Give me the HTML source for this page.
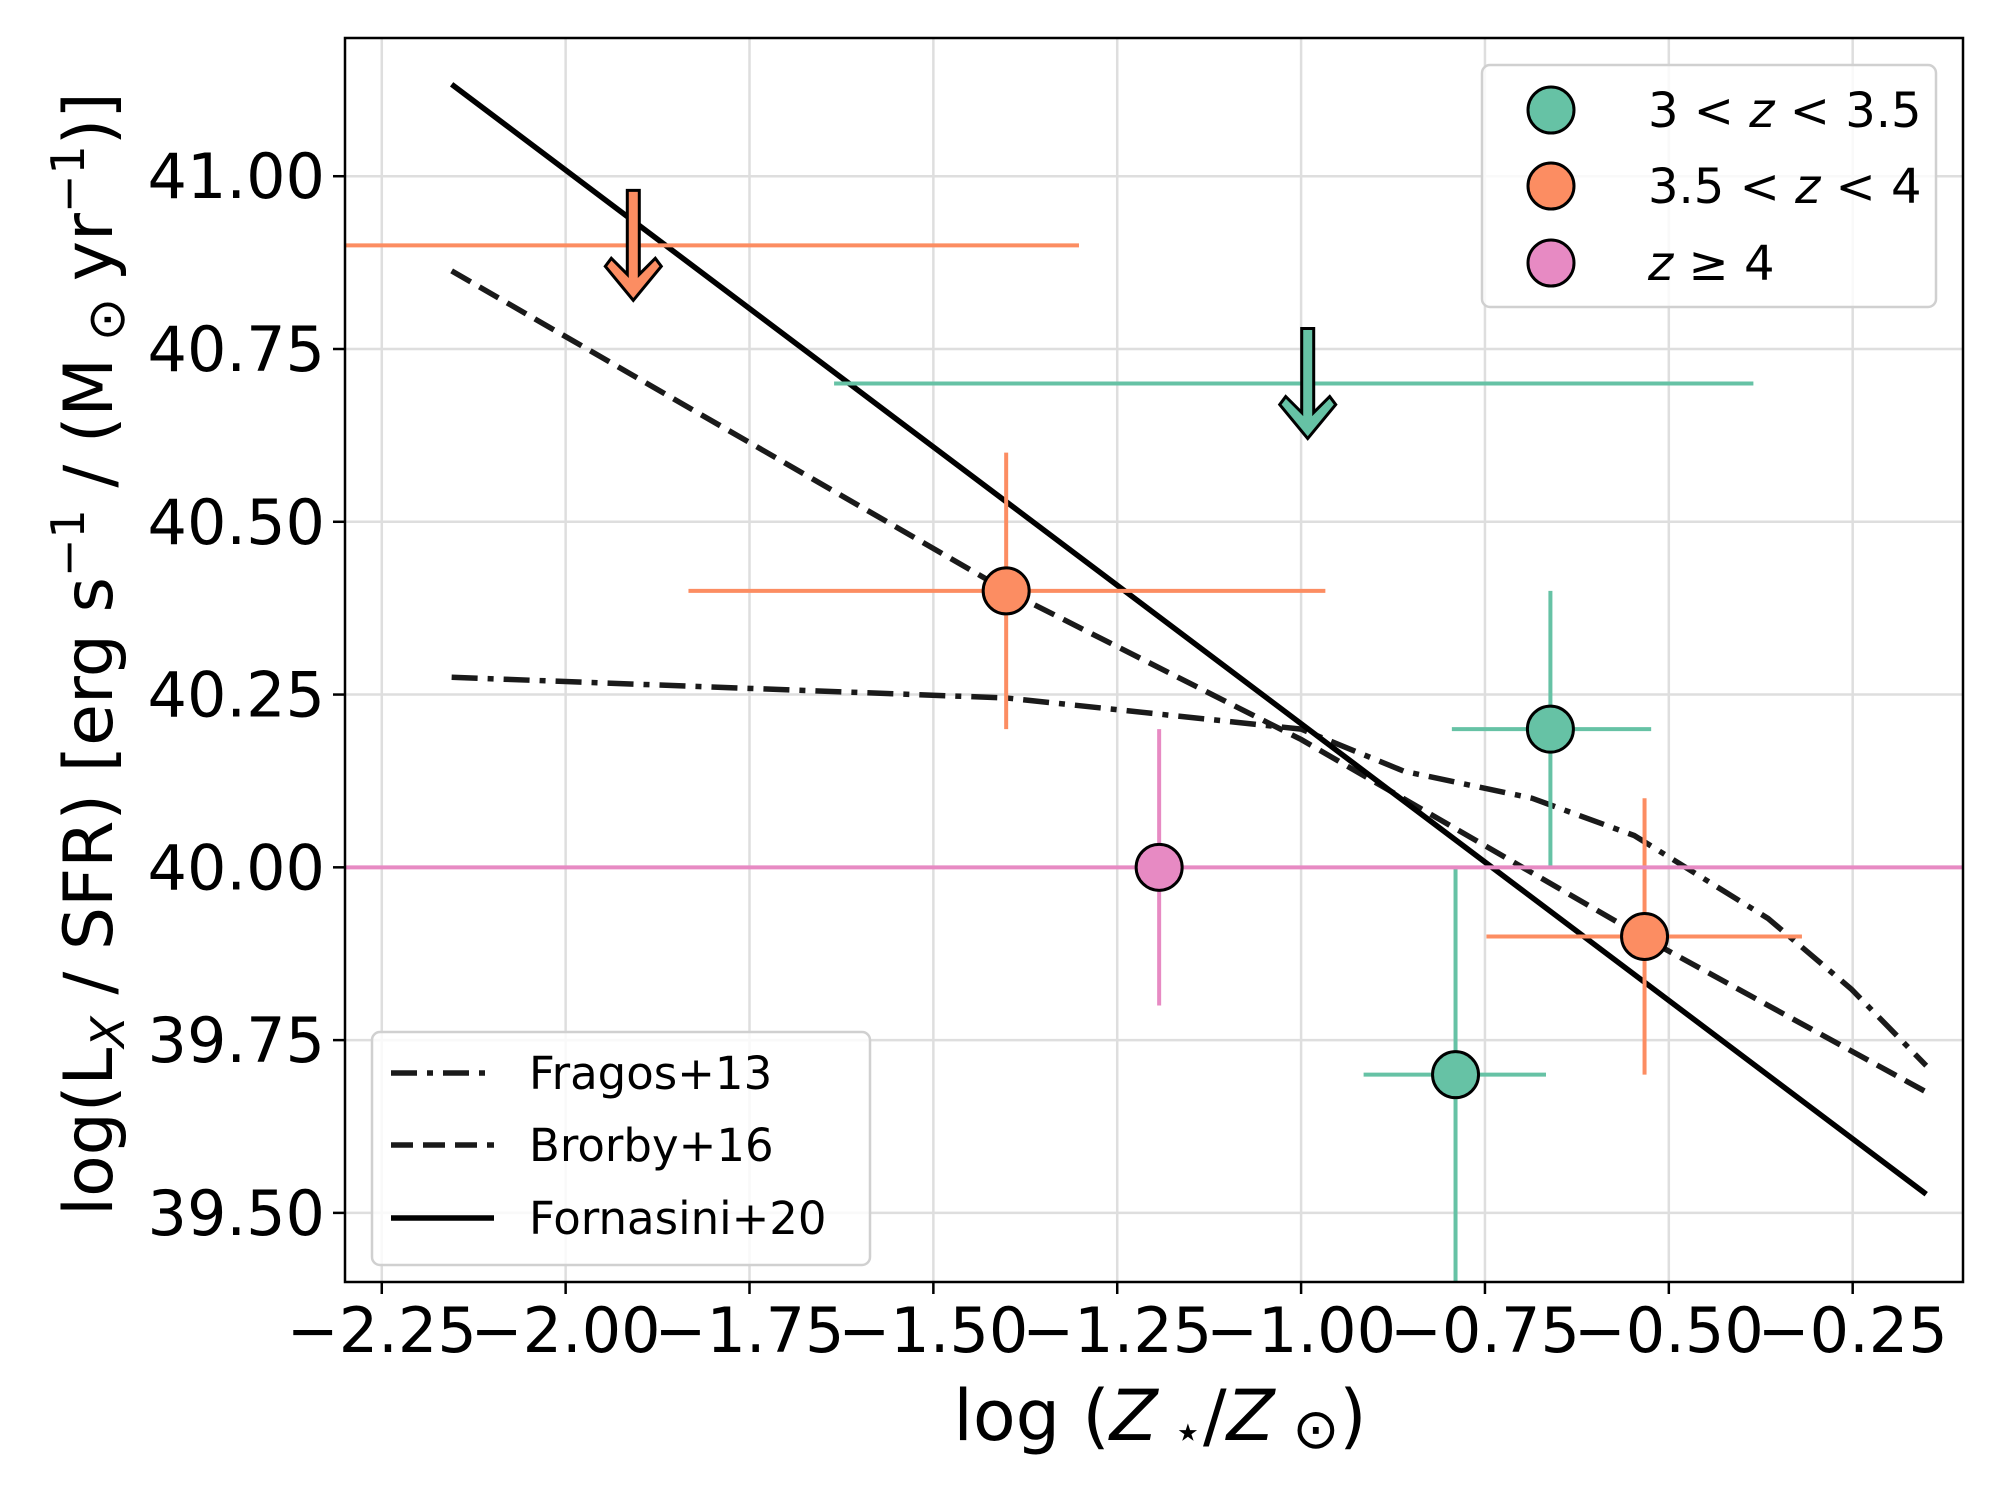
<!DOCTYPE html>
<html><head><meta charset="utf-8"><style>
html,body{margin:0;padding:0;background:#fff;}
svg{display:block;font-family:"DejaVu Sans","Liberation Sans",sans-serif;}
</style></head><body>
<svg id="chart" width="2000" height="1500" viewBox="0 0 2000 1500" xmlns="http://www.w3.org/2000/svg">
<rect width="2000" height="1500" fill="#fff"/>
<g id="grid"></g>
<g id="models"></g>
<g id="points"></g>
<rect x="345" y="38" width="1618" height="1244" fill="none" stroke="#000" stroke-width="2.5"/>
<g id="ticks"></g>
<text x="1160" y="1440" font-size="70" text-anchor="middle">log (<tspan font-style="italic">Z</tspan><tspan font-size="48" dy="8"> ⋆</tspan><tspan dy="-8">/</tspan><tspan font-style="italic">Z</tspan><tspan font-size="56" dy="8"> ⊙</tspan><tspan dy="-8">)</tspan></text>
<text transform="translate(112,654) rotate(-90)" font-size="68" text-anchor="middle">log(L<tspan font-size="46" dy="12" font-style="italic">X</tspan><tspan dy="-12"> / SFR) [erg s</tspan><tspan font-size="46" dy="-28">−1</tspan><tspan dy="28"> / (M</tspan><tspan font-size="52" dy="12"> ⊙ </tspan><tspan dy="-12"> yr</tspan><tspan font-size="46" dy="-28">−1</tspan><tspan dy="28">)]</tspan></text>
<g>
<rect x="1482" y="65" width="454" height="242" rx="8" fill="#fff" fill-opacity="0.8" stroke="#d0d0d0" stroke-width="2.5"/>
<circle cx="1551" cy="110" r="23" fill="#66c2a5" stroke="#000" stroke-width="3"/>
<circle cx="1551" cy="186" r="23" fill="#fc8d62" stroke="#000" stroke-width="3"/>
<circle cx="1551" cy="263" r="23" fill="#e78ac3" stroke="#000" stroke-width="3"/>
<text x="1648" y="127" font-size="48">3 &lt; <tspan font-style="italic">z</tspan> &lt; 3.5</text>
<text x="1648" y="203" font-size="48">3.5 &lt; <tspan font-style="italic">z</tspan> &lt; 4</text>
<text x="1648" y="280" font-size="48"><tspan font-style="italic">z</tspan> ≥ 4</text>
</g>
<g>
<rect x="372" y="1032" width="498" height="233" rx="8" fill="#fff" fill-opacity="0.8" stroke="#d0d0d0" stroke-width="2.5"/>
<line x1="391" y1="1073" x2="494" y2="1073" stroke="#1a1a1a" stroke-width="5.5" stroke-dasharray="26,10,6,10"/>
<line x1="391" y1="1145" x2="494" y2="1145" stroke="#1a1a1a" stroke-width="5.5" stroke-dasharray="22,10"/>
<line x1="391" y1="1218" x2="494" y2="1218" stroke="#000" stroke-width="5.5"/>
<text x="529" y="1089" font-size="45">Fragos+13</text>
<text x="529" y="1161" font-size="45">Brorby+16</text>
<text x="529" y="1234" font-size="45">Fornasini+20</text>
</g>
<script>
const xTicks = [-2.25,-2.0,-1.75,-1.5,-1.25,-1.0,-0.75,-0.5,-0.25];
const xTickLabels = ["−2.25","−2.00","−1.75","−1.50","−1.25","−1.00","−0.75","−0.50","−0.25"];
const yTicks = [39.5,39.75,40.0,40.25,40.5,40.75,41.0];
const yTickLabels = ["39.50","39.75","40.00","40.25","40.50","40.75","41.00"];
const fornasiniX = [-2.155,-0.15];
const fornasiniY = [41.133,39.527];
const brorbyX = [-2.155,-1.4,-1.0,-0.533,-0.15];
const brorbyY = [40.863,40.40,40.185,39.898,39.675];
const fragosX = [-2.155,-1.4,-1.0,-0.86,-0.686,-0.547,-0.365,-0.252,-0.15];
const fragosY = [40.275,40.245,40.20,40.139,40.10,40.046,39.926,39.824,39.713];
const pointX = [-0.661,-0.790,-1.401,-0.533,-1.193];
const pointY = [40.20,39.70,40.40,39.90,40.00];
const pointXLo = [-0.795,-0.915,-1.833,-0.748,-2.30];
const pointXHi = [-0.524,-0.667,-0.967,-0.319,-0.10];
const pointYLo = [40.00,39.30,40.20,39.70,39.80];
const pointYHi = [40.40,40.00,40.60,40.10,40.20];
const pointGroup = ["g","g","o","o","p"];
const limitX = [-0.991,-1.908];
const limitY = [40.70,40.90];
const limitXLo = [-1.635,-2.30];
const limitXHi = [-0.385,-1.302];
const limitGroup = ["g","o"];
const colors = {g:"#66c2a5",o:"#fc8d62",p:"#e78ac3"};
const X0=-2.3,X1=-0.1,PX0=345,PX1=1963,Y0=39.4,Y1=41.2,PY0=1282,PY1=38;
const sx=v=>PX0+(v-X0)/(X1-X0)*(PX1-PX0);
const sy=v=>PY0-(v-Y0)/(Y1-Y0)*(PY0-PY1);
const NS="http://www.w3.org/2000/svg";
function mk(tag,parent,attrs){const e=document.createElementNS(NS,tag);for(const k in attrs)e.setAttribute(k,attrs[k]);parent.appendChild(e);return e;}
const grid=document.getElementById('grid'),ticks=document.getElementById('ticks');
xTicks.forEach((t,i)=>{
  const g=mk('line',grid,{x1:sx(t),x2:sx(t),y1:PY1,y2:PY0,stroke:'#dedede','stroke-width':2.5});
  
  
  const tk=mk('line',ticks,{x1:sx(t),x2:sx(t),y1:PY0,y2:PY0+12,stroke:'#000','stroke-width':2.5});
  
  
  const tx=mk('text',ticks,{x:sx(t),y:PY0+70,'font-size':62,'text-anchor':'middle'});
  tx.textContent=xTickLabels[i];
  
  
});
yTicks.forEach((t,i)=>{
  const g=mk('line',grid,{x1:PX0,x2:PX1,y1:sy(t),y2:sy(t),stroke:'#dedede','stroke-width':2.5});
  
  
  const tk=mk('line',ticks,{x1:PX0-12,x2:PX0,y1:sy(t),y2:sy(t),stroke:'#000','stroke-width':2.5});
  
  
  const tx=mk('text',ticks,{x:PX0-20,y:sy(t)+22,'font-size':62,'text-anchor':'end'});
  tx.textContent=yTickLabels[i];
  
  
});
const models=document.getElementById('models');
function poly(xs,ys,dash,col,name){
  const p=mk('polyline',models,{points:xs.map((x,i)=>sx(x)+','+sy(ys[i])).join(' '),fill:'none',stroke:col,'stroke-width':5.5,'stroke-dasharray':dash});
  
  
}
poly(fragosX,fragosY,'26,10,6,10','#1a1a1a','fragos-line');
poly(brorbyX,brorbyY,'22,10','#1a1a1a','brorby-line');
poly(fornasiniX,fornasiniY,'none','#000','fornasini-line');
const pts=document.getElementById('points');
limitX.forEach((x,i)=>{
  const c=colors[limitGroup[i]];
  const l=mk('line',pts,{x1:sx(limitXLo[i]),x2:sx(limitXHi[i]),y1:sy(limitY[i]),y2:sy(limitY[i]),stroke:c,'stroke-width':4});
  
  
  const cx=sx(x),top=sy(limitY[i])-55,tip=sy(limitY[i])+55;
  const a=mk('path',pts,{d:`M${cx-6},${top} L${cx+6},${top} L${cx+6},${tip-26} L${cx+22},${tip-42} L${cx+28},${tip-34} L${cx},${tip} L${cx-28},${tip-34} L${cx-22},${tip-42} L${cx-6},${tip-26} Z`,fill:c,stroke:'#000','stroke-width':3,'stroke-linejoin':'miter'});
  
  
});
pointX.forEach((x,i)=>{
  const c=colors[pointGroup[i]];
  const h=mk('line',pts,{x1:sx(pointXLo[i]),x2:sx(pointXHi[i]),y1:sy(pointY[i]),y2:sy(pointY[i]),stroke:c,'stroke-width':4});
  
  
  const v=mk('line',pts,{x1:sx(x),x2:sx(x),y1:sy(Math.max(pointYLo[i],Y0)),y2:sy(pointYHi[i]),stroke:c,'stroke-width':4});
  
  
});
pointX.forEach((x,i)=>{
  const m=mk('circle',pts,{cx:sx(x),cy:sy(pointY[i]),r:23,fill:colors[pointGroup[i]],stroke:'#000','stroke-width':3});
  
  
});
</script>
</svg>
</body></html>
